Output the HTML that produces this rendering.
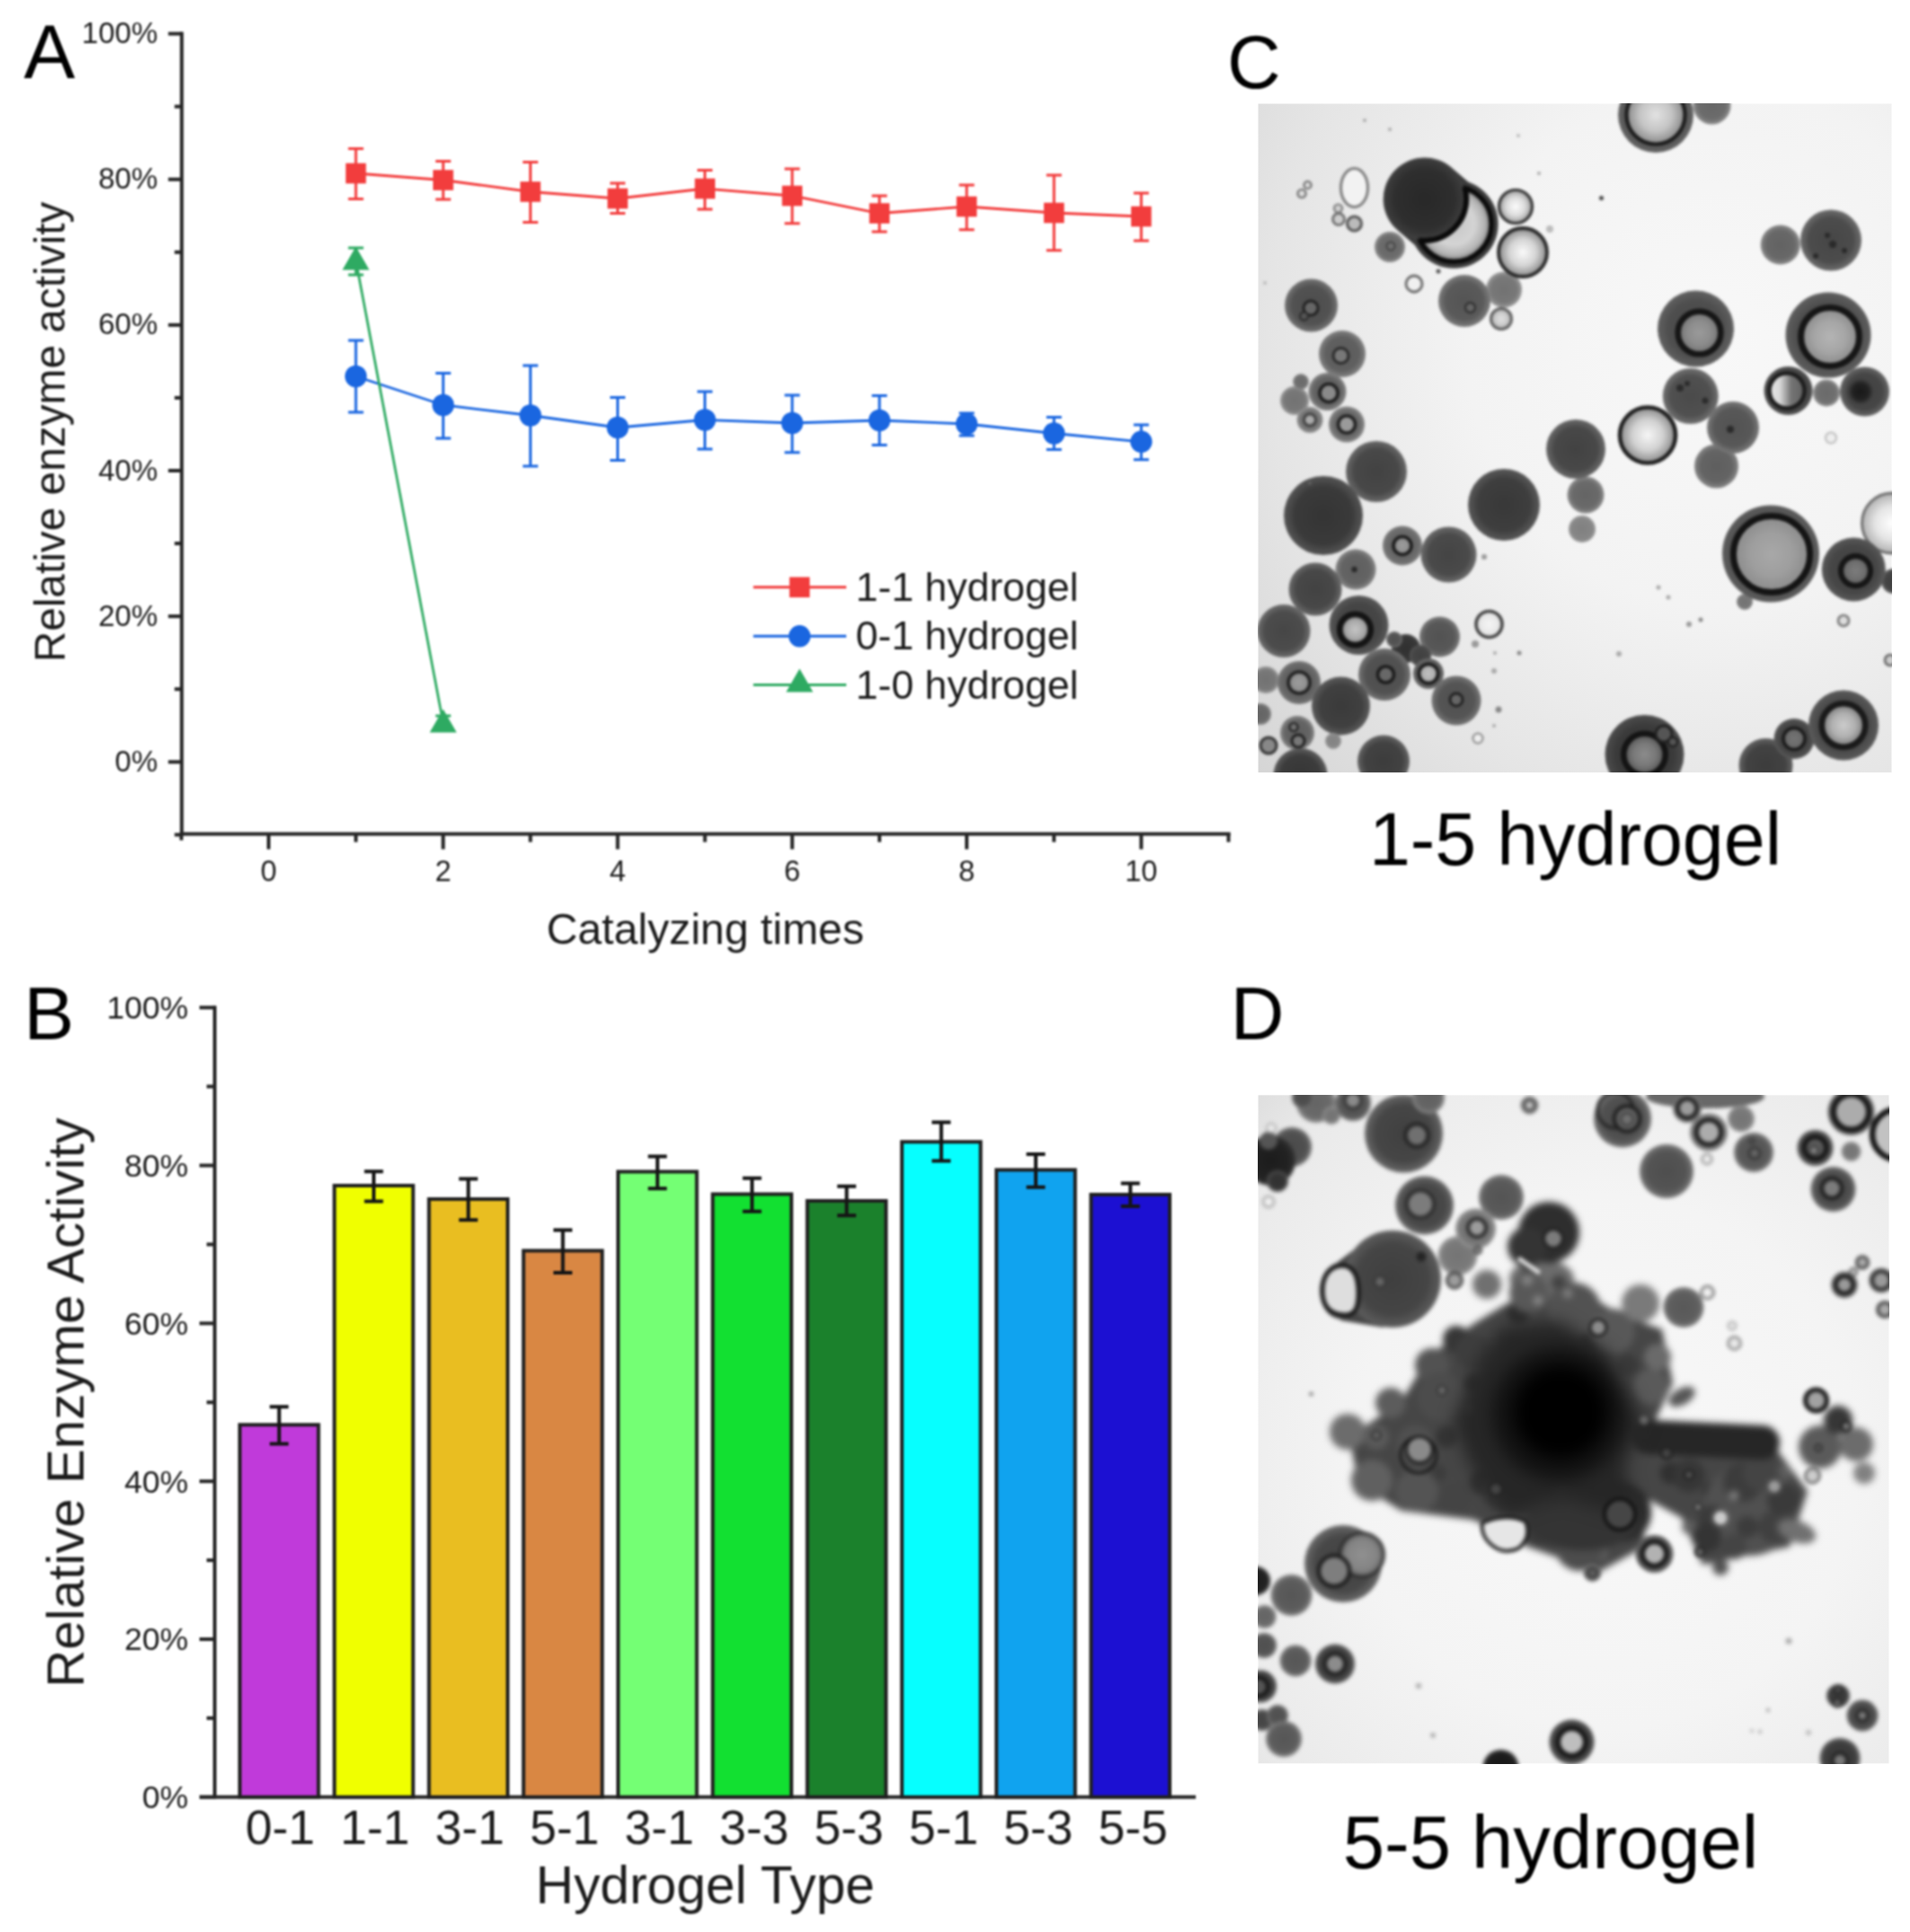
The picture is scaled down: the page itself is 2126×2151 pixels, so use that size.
<!DOCTYPE html><html><head><meta charset="utf-8"><title>Figure</title><style>html,body{margin:0;padding:0;background:#fff}svg{display:block}text{font-family:"Liberation Sans",sans-serif}</style></head><body>
<svg width="2126" height="2151" viewBox="0 0 2126 2151">
<defs><filter id="soft" color-interpolation-filters="sRGB" x="-2%" y="-2%" width="104%" height="104%"><feGaussianBlur stdDeviation="0.9"/></filter>
<radialGradient id="g0"><stop offset="0" stop-color="#c6c6c6"/><stop offset="0.55" stop-color="#d4d4d4"/><stop offset="0.82" stop-color="#b4b4b4"/><stop offset="1" stop-color="#707070"/></radialGradient>
<radialGradient id="g1"><stop offset="0" stop-color="#282828"/><stop offset="0.72" stop-color="#2e2e2e"/><stop offset="0.9" stop-color="#383838"/><stop offset="1" stop-color="#404040"/></radialGradient>
<radialGradient id="g2"><stop offset="0" stop-color="#fcfcfc"/><stop offset="0.55" stop-color="#dcdcdc"/><stop offset="1" stop-color="#9c9c9c"/></radialGradient>
<radialGradient id="g3"><stop offset="0" stop-color="#727272"/><stop offset="0.72" stop-color="#787878"/><stop offset="0.9" stop-color="#8e8e8e"/><stop offset="1" stop-color="#969696"/></radialGradient>
<radialGradient id="g4"><stop offset="0" stop-color="#fafafa"/><stop offset="0.55" stop-color="#d4d4d4"/><stop offset="1" stop-color="#888888"/></radialGradient>
<radialGradient id="g5"><stop offset="0" stop-color="#666666"/><stop offset="0.72" stop-color="#6c6c6c"/><stop offset="0.9" stop-color="#828282"/><stop offset="1" stop-color="#8a8a8a"/></radialGradient>
<radialGradient id="g6"><stop offset="0" stop-color="#545454"/><stop offset="0.72" stop-color="#5a5a5a"/><stop offset="0.9" stop-color="#707070"/><stop offset="1" stop-color="#787878"/></radialGradient>
<radialGradient id="g7"><stop offset="0" stop-color="#e0e0e0"/><stop offset="0.55" stop-color="#cdcdcd"/><stop offset="1" stop-color="#a8a8a8"/></radialGradient>
<radialGradient id="g8"><stop offset="0" stop-color="#4c4c4c"/><stop offset="0.72" stop-color="#525252"/><stop offset="0.9" stop-color="#686868"/><stop offset="1" stop-color="#707070"/></radialGradient>
<radialGradient id="g9"><stop offset="0" stop-color="#5a5a5a"/><stop offset="0.72" stop-color="#606060"/><stop offset="0.9" stop-color="#767676"/><stop offset="1" stop-color="#7e7e7e"/></radialGradient>
<radialGradient id="g10"><stop offset="0" stop-color="#6a6a6a"/><stop offset="0.72" stop-color="#707070"/><stop offset="0.9" stop-color="#868686"/><stop offset="1" stop-color="#8e8e8e"/></radialGradient>
<radialGradient id="g11"><stop offset="0" stop-color="#5c5c5c"/><stop offset="0.72" stop-color="#626262"/><stop offset="0.9" stop-color="#787878"/><stop offset="1" stop-color="#808080"/></radialGradient>
<radialGradient id="g12"><stop offset="0" stop-color="#6e6e6e"/><stop offset="0.72" stop-color="#747474"/><stop offset="0.9" stop-color="#8a8a8a"/><stop offset="1" stop-color="#929292"/></radialGradient>
<radialGradient id="g13"><stop offset="0" stop-color="#626262"/><stop offset="0.72" stop-color="#686868"/><stop offset="0.9" stop-color="#7e7e7e"/><stop offset="1" stop-color="#868686"/></radialGradient>
<radialGradient id="g14"><stop offset="0" stop-color="#424242"/><stop offset="0.72" stop-color="#484848"/><stop offset="0.9" stop-color="#5e5e5e"/><stop offset="1" stop-color="#666666"/></radialGradient>
<radialGradient id="g15"><stop offset="0" stop-color="#343434"/><stop offset="0.72" stop-color="#3a3a3a"/><stop offset="0.9" stop-color="#4c4c4c"/><stop offset="1" stop-color="#545454"/></radialGradient>
<radialGradient id="g16"><stop offset="0" stop-color="#383838"/><stop offset="0.72" stop-color="#3e3e3e"/><stop offset="0.9" stop-color="#505050"/><stop offset="1" stop-color="#585858"/></radialGradient>
<radialGradient id="g17"><stop offset="0" stop-color="#646464"/><stop offset="0.72" stop-color="#6a6a6a"/><stop offset="0.9" stop-color="#808080"/><stop offset="1" stop-color="#888888"/></radialGradient>
<radialGradient id="g18"><stop offset="0" stop-color="#808080"/><stop offset="0.72" stop-color="#868686"/><stop offset="0.9" stop-color="#909090"/><stop offset="1" stop-color="#989898"/></radialGradient>
<radialGradient id="g19"><stop offset="0" stop-color="#f6f6f6"/><stop offset="0.55" stop-color="#d1d1d1"/><stop offset="1" stop-color="#888888"/></radialGradient>
<radialGradient id="g20"><stop offset="0" stop-color="#4a4a4a"/><stop offset="0.72" stop-color="#505050"/><stop offset="0.9" stop-color="#5c5c5c"/><stop offset="1" stop-color="#646464"/></radialGradient>
<radialGradient id="g21"><stop offset="0" stop-color="#e2e2e2"/><stop offset="0.55" stop-color="#c4c4c4"/><stop offset="1" stop-color="#888888"/></radialGradient>
<radialGradient id="g22"><stop offset="0" stop-color="#464646"/><stop offset="0.72" stop-color="#4c4c4c"/><stop offset="0.9" stop-color="#626262"/><stop offset="1" stop-color="#6a6a6a"/></radialGradient>
<radialGradient id="g23"><stop offset="0" stop-color="#4a4a4a"/><stop offset="0.72" stop-color="#505050"/><stop offset="0.9" stop-color="#666666"/><stop offset="1" stop-color="#6e6e6e"/></radialGradient>
<radialGradient id="g24"><stop offset="0" stop-color="#484848"/><stop offset="0.72" stop-color="#4e4e4e"/><stop offset="0.9" stop-color="#5a5a5a"/><stop offset="1" stop-color="#626262"/></radialGradient>
<radialGradient id="g25"><stop offset="0" stop-color="#9a9a9a"/><stop offset="0.55" stop-color="#8c8c8c"/><stop offset="1" stop-color="#707070"/></radialGradient>
<radialGradient id="g26"><stop offset="0" stop-color="#5e5e5e"/><stop offset="0.72" stop-color="#646464"/><stop offset="0.9" stop-color="#7a7a7a"/><stop offset="1" stop-color="#828282"/></radialGradient>
<radialGradient id="g27"><stop offset="0" stop-color="#525252"/><stop offset="0.72" stop-color="#585858"/><stop offset="0.9" stop-color="#6e6e6e"/><stop offset="1" stop-color="#767676"/></radialGradient>
<radialGradient id="g28"><stop offset="0" stop-color="#3a3a3a"/><stop offset="0.72" stop-color="#404040"/><stop offset="0.9" stop-color="#4a4a4a"/><stop offset="1" stop-color="#525252"/></radialGradient>
<linearGradient id="g29" x1="0" y1="0" x2="1" y2="0"><stop offset="0" stop-color="#e8e8e8"/><stop offset="0.3" stop-color="#d8d8d8"/><stop offset="0.62" stop-color="#747474"/><stop offset="1" stop-color="#606060"/></linearGradient>
<radialGradient id="g30"><stop offset="0" stop-color="#404040"/><stop offset="0.72" stop-color="#464646"/><stop offset="0.9" stop-color="#5c5c5c"/><stop offset="1" stop-color="#646464"/></radialGradient>
<radialGradient id="g31"><stop offset="0" stop-color="#181818"/><stop offset="0.6" stop-color="#222222"/><stop offset="1" stop-color="#464646"/></radialGradient>
<radialGradient id="g32"><stop offset="0" stop-color="#464646"/><stop offset="0.72" stop-color="#4c4c4c"/><stop offset="0.9" stop-color="#585858"/><stop offset="1" stop-color="#606060"/></radialGradient>
<radialGradient id="g33"><stop offset="0" stop-color="#b4b4b4"/><stop offset="0.55" stop-color="#a5a5a5"/><stop offset="1" stop-color="#888888"/></radialGradient>
<radialGradient id="g34"><stop offset="0" stop-color="#626262"/><stop offset="0.72" stop-color="#686868"/><stop offset="0.9" stop-color="#747474"/><stop offset="1" stop-color="#7c7c7c"/></radialGradient>
<radialGradient id="g35"><stop offset="0" stop-color="#9c9c9c"/><stop offset="0.55" stop-color="#939393"/><stop offset="1" stop-color="#808080"/></radialGradient>
<radialGradient id="g36"><stop offset="0" stop-color="#444444"/><stop offset="0.72" stop-color="#4a4a4a"/><stop offset="0.9" stop-color="#606060"/><stop offset="1" stop-color="#686868"/></radialGradient>
<radialGradient id="g37"><stop offset="0" stop-color="#303030"/><stop offset="0.72" stop-color="#363636"/><stop offset="0.9" stop-color="#404040"/><stop offset="1" stop-color="#484848"/></radialGradient>
<radialGradient id="g38"><stop offset="0" stop-color="#404040"/><stop offset="0.72" stop-color="#464646"/><stop offset="0.9" stop-color="#505050"/><stop offset="1" stop-color="#585858"/></radialGradient>
<radialGradient id="g39"><stop offset="0" stop-color="#4f4f4f"/><stop offset="0.72" stop-color="#555555"/><stop offset="0.9" stop-color="#6b6b6b"/><stop offset="1" stop-color="#737373"/></radialGradient>
<radialGradient id="g40"><stop offset="0" stop-color="#404040"/><stop offset="0.72" stop-color="#464646"/><stop offset="0.9" stop-color="#525252"/><stop offset="1" stop-color="#5a5a5a"/></radialGradient>
<radialGradient id="g41"><stop offset="0" stop-color="#c4c4c4"/><stop offset="0.55" stop-color="#ababab"/><stop offset="1" stop-color="#787878"/></radialGradient>
<radialGradient id="g42"><stop offset="0" stop-color="#f4f4f4"/><stop offset="0.55" stop-color="#ebebeb"/><stop offset="1" stop-color="#d8d8d8"/></radialGradient>
<radialGradient id="g43"><stop offset="0" stop-color="#4f4f4f"/><stop offset="0.72" stop-color="#555555"/><stop offset="0.9" stop-color="#616161"/><stop offset="1" stop-color="#696969"/></radialGradient>
<radialGradient id="g44"><stop offset="0" stop-color="#c0c0c0"/><stop offset="0.55" stop-color="#b3b3b3"/><stop offset="1" stop-color="#9a9a9a"/></radialGradient>
<radialGradient id="g45"><stop offset="0" stop-color="#5c5c5c"/><stop offset="0.72" stop-color="#626262"/><stop offset="0.9" stop-color="#6e6e6e"/><stop offset="1" stop-color="#767676"/></radialGradient>
<radialGradient id="g46"><stop offset="0" stop-color="#3a3a3a"/><stop offset="0.72" stop-color="#404040"/><stop offset="0.9" stop-color="#525252"/><stop offset="1" stop-color="#5a5a5a"/></radialGradient>
<radialGradient id="g47"><stop offset="0" stop-color="#828282"/><stop offset="0.72" stop-color="#888888"/><stop offset="0.9" stop-color="#909090"/><stop offset="1" stop-color="#989898"/></radialGradient>
<radialGradient id="g48"><stop offset="0" stop-color="#3c3c3c"/><stop offset="0.72" stop-color="#424242"/><stop offset="0.9" stop-color="#585858"/><stop offset="1" stop-color="#606060"/></radialGradient>
<radialGradient id="g49"><stop offset="0" stop-color="#363636"/><stop offset="0.72" stop-color="#3c3c3c"/><stop offset="0.9" stop-color="#525252"/><stop offset="1" stop-color="#5a5a5a"/></radialGradient>
<radialGradient id="g50"><stop offset="0" stop-color="#343434"/><stop offset="0.72" stop-color="#3a3a3a"/><stop offset="0.9" stop-color="#464646"/><stop offset="1" stop-color="#4e4e4e"/></radialGradient>
<radialGradient id="g51"><stop offset="0" stop-color="#8c8c8c"/><stop offset="0.55" stop-color="#787878"/><stop offset="1" stop-color="#505050"/></radialGradient>
<radialGradient id="g52"><stop offset="0" stop-color="#ffffff"/><stop offset="0.55" stop-color="#e5e5e5"/><stop offset="1" stop-color="#b0b0b0"/></radialGradient>
<radialGradient id="g53"><stop offset="0" stop-color="#3e3e3e"/><stop offset="0.72" stop-color="#444444"/><stop offset="0.9" stop-color="#5a5a5a"/><stop offset="1" stop-color="#626262"/></radialGradient>
<radialGradient id="g54"><stop offset="0" stop-color="#7c7c7c"/><stop offset="0.55" stop-color="#707070"/><stop offset="1" stop-color="#585858"/></radialGradient>
<radialGradient id="g55"><stop offset="0" stop-color="#727272"/><stop offset="0.72" stop-color="#787878"/><stop offset="0.9" stop-color="#808080"/><stop offset="1" stop-color="#888888"/></radialGradient>
<radialGradient id="g56"><stop offset="0" stop-color="#444444"/><stop offset="0.72" stop-color="#4a4a4a"/><stop offset="0.9" stop-color="#565656"/><stop offset="1" stop-color="#5e5e5e"/></radialGradient>
<radialGradient id="g57"><stop offset="0" stop-color="#a8a8a8"/><stop offset="0.55" stop-color="#9e9e9e"/><stop offset="1" stop-color="#8a8a8a"/></radialGradient>
<radialGradient id="g58"><stop offset="0" stop-color="#3e3e3e"/><stop offset="0.72" stop-color="#444444"/><stop offset="0.9" stop-color="#505050"/><stop offset="1" stop-color="#585858"/></radialGradient>
<radialGradient id="g59"><stop offset="0" stop-color="#747474"/><stop offset="0.55" stop-color="#6d6d6d"/><stop offset="1" stop-color="#606060"/></radialGradient>
<radialGradient id="g60"><stop offset="0" stop-color="#424242"/><stop offset="0.72" stop-color="#484848"/><stop offset="0.9" stop-color="#545454"/><stop offset="1" stop-color="#5c5c5c"/></radialGradient>
<radialGradient id="g61"><stop offset="0" stop-color="#cccccc"/><stop offset="0.55" stop-color="#afafaf"/><stop offset="1" stop-color="#747474"/></radialGradient>
<radialGradient id="bgC" cx="0.72" cy="0.36" r="0.98"><stop offset="0" stop-color="#f8f8f8"/><stop offset="0.4" stop-color="#f3f3f3"/><stop offset="0.72" stop-color="#e5e5e5"/><stop offset="1" stop-color="#d4d4d4"/></radialGradient>
<clipPath id="clipC"><rect x="1400.5" y="115.5" width="705" height="744.5"/></clipPath>
<filter id="blurC" color-interpolation-filters="sRGB" filterUnits="userSpaceOnUse" x="1380.5" y="95.5" width="745" height="784.5"><feGaussianBlur stdDeviation="1.8"/></filter>
<radialGradient id="g62"><stop offset="0" stop-color="#747474"/><stop offset="0.72" stop-color="#7a7a7a"/><stop offset="0.9" stop-color="#909090"/><stop offset="1" stop-color="#989898"/></radialGradient>
<filter id="hvD" color-interpolation-filters="sRGB" filterUnits="userSpaceOnUse" x="1380" y="1199" width="743" height="785"><feGaussianBlur stdDeviation="3.4"/></filter>
<filter id="hvD2" color-interpolation-filters="sRGB" filterUnits="userSpaceOnUse" x="1380" y="1199" width="743" height="785"><feGaussianBlur stdDeviation="9"/></filter>
<radialGradient id="g63"><stop offset="0" stop-color="#3f3f3f"/><stop offset="0.72" stop-color="#454545"/><stop offset="0.9" stop-color="#555555"/><stop offset="1" stop-color="#5d5d5d"/></radialGradient>
<radialGradient id="g64"><stop offset="0" stop-color="#1c1c1c"/><stop offset="0.72" stop-color="#222222"/><stop offset="0.9" stop-color="#2c2c2c"/><stop offset="1" stop-color="#343434"/></radialGradient>
<radialGradient id="g65"><stop offset="0" stop-color="#303030"/><stop offset="0.72" stop-color="#363636"/><stop offset="0.9" stop-color="#4c4c4c"/><stop offset="1" stop-color="#545454"/></radialGradient>
<radialGradient id="g66"><stop offset="0" stop-color="#606060"/><stop offset="0.72" stop-color="#666666"/><stop offset="0.9" stop-color="#7c7c7c"/><stop offset="1" stop-color="#848484"/></radialGradient>
<radialGradient id="g67"><stop offset="0" stop-color="#4e4e4e"/><stop offset="0.72" stop-color="#545454"/><stop offset="0.9" stop-color="#6a6a6a"/><stop offset="1" stop-color="#727272"/></radialGradient>
<radialGradient id="g68"><stop offset="0" stop-color="#343434"/><stop offset="0.72" stop-color="#3a3a3a"/><stop offset="0.9" stop-color="#505050"/><stop offset="1" stop-color="#585858"/></radialGradient>
<radialGradient id="g69"><stop offset="0" stop-color="#585858"/><stop offset="0.72" stop-color="#5e5e5e"/><stop offset="0.9" stop-color="#747474"/><stop offset="1" stop-color="#7c7c7c"/></radialGradient>
<radialGradient id="g70"><stop offset="0" stop-color="#565656"/><stop offset="0.72" stop-color="#5c5c5c"/><stop offset="0.9" stop-color="#727272"/><stop offset="1" stop-color="#7a7a7a"/></radialGradient>
<radialGradient id="g71"><stop offset="0" stop-color="#909090"/><stop offset="0.7" stop-color="#848484"/><stop offset="1" stop-color="#606060"/></radialGradient>
<radialGradient id="g72"><stop offset="0" stop-color="#1c1c1c"/><stop offset="0.72" stop-color="#222222"/><stop offset="0.9" stop-color="#2a2a2a"/><stop offset="1" stop-color="#323232"/></radialGradient>
<radialGradient id="g73"><stop offset="0" stop-color="#161616"/><stop offset="0.72" stop-color="#1c1c1c"/><stop offset="0.9" stop-color="#282828"/><stop offset="1" stop-color="#303030"/></radialGradient>
<radialGradient id="bgD" cx="0.55" cy="0.55" r="0.8"><stop offset="0" stop-color="#f8f8f8"/><stop offset="0.5" stop-color="#f4f4f4"/><stop offset="0.85" stop-color="#eaeaea"/><stop offset="1" stop-color="#dcdcdc"/></radialGradient>
<clipPath id="clipD"><rect x="1400.5" y="1219.3" width="702" height="744"/></clipPath>
<filter id="blurD" color-interpolation-filters="sRGB" filterUnits="userSpaceOnUse" x="1380.5" y="1199.3" width="742" height="784"><feGaussianBlur stdDeviation="1.9"/></filter>
</defs>
<rect width="2126" height="2151" fill="#fff"/>
<g filter="url(#soft)">
<g id="panelA">
<g stroke="#262626" stroke-width="4" fill="none">
<path d="M202.3 35.44999999999995 V930.6"/>
<path d="M200.20000000000002 928.5 H1369.6299999999999"/>
<path d="M194.3 929.38 H202.3"/>
<path d="M187.3 848.30 H202.3"/>
<path d="M194.3 767.22 H202.3"/>
<path d="M187.3 686.15 H202.3"/>
<path d="M194.3 605.07 H202.3"/>
<path d="M187.3 524.00 H202.3"/>
<path d="M194.3 442.92 H202.3"/>
<path d="M187.3 361.85 H202.3"/>
<path d="M194.3 280.77 H202.3"/>
<path d="M187.3 199.70 H202.3"/>
<path d="M194.3 118.62 H202.3"/>
<path d="M187.3 37.55 H202.3"/>
<path d="M201.87 928.5 V935.5"/>
<path d="M299.00 928.5 V945.5"/>
<path d="M396.13 928.5 V937.5"/>
<path d="M493.26 928.5 V945.5"/>
<path d="M590.39 928.5 V937.5"/>
<path d="M687.52 928.5 V945.5"/>
<path d="M784.65 928.5 V937.5"/>
<path d="M881.78 928.5 V945.5"/>
<path d="M978.91 928.5 V937.5"/>
<path d="M1076.04 928.5 V945.5"/>
<path d="M1173.17 928.5 V937.5"/>
<path d="M1270.30 928.5 V945.5"/>
<path d="M1367.43 928.5 V937.5"/>
</g>
<text x="175.5" y="858.9" font-size="33" text-anchor="end" fill="#1c1c1c" >0%</text>
<text x="175.5" y="696.8" font-size="33" text-anchor="end" fill="#1c1c1c" >20%</text>
<text x="175.5" y="534.6" font-size="33" text-anchor="end" fill="#1c1c1c" >40%</text>
<text x="175.5" y="372.4" font-size="33" text-anchor="end" fill="#1c1c1c" >60%</text>
<text x="175.5" y="210.3" font-size="33" text-anchor="end" fill="#1c1c1c" >80%</text>
<text x="175.5" y="48.1" font-size="33" text-anchor="end" fill="#1c1c1c" >100%</text>
<text x="299.0" y="981.2" font-size="32.5" text-anchor="middle" fill="#1c1c1c" >0</text>
<text x="493.3" y="981.2" font-size="32.5" text-anchor="middle" fill="#1c1c1c" >2</text>
<text x="687.5" y="981.2" font-size="32.5" text-anchor="middle" fill="#1c1c1c" >4</text>
<text x="881.8" y="981.2" font-size="32.5" text-anchor="middle" fill="#1c1c1c" >6</text>
<text x="1076.0" y="981.2" font-size="32.5" text-anchor="middle" fill="#1c1c1c" >8</text>
<text x="1270.3" y="981.2" font-size="32.5" text-anchor="middle" fill="#1c1c1c" >10</text>
<text x="785" y="1051" font-size="48.2" text-anchor="middle" fill="#1c1c1c" >Catalyzing times</text>
<text transform="translate(72.2 481) rotate(-90)" font-size="47.8" text-anchor="middle" fill="#1c1c1c">Relative enzyme activity</text>
<text x="26.5" y="87" font-size="85.5" text-anchor="start" fill="#000" >A</text>
<g stroke="#f23d3d" fill="#f23d3d" stroke-width="2.8">
<polyline fill="none" points="396.1,193.0 493.3,200.5 590.4,213.5 687.5,221.0 784.6,210.0 881.8,218.0 978.9,237.5 1076.0,230.0 1173.2,237.0 1270.3,241.0"/>
<path fill="none" stroke-width="3" d="M396.1 165.5 V221.5 M387.6 165.5 h17 M387.6 221.5 h17"/>
<path fill="none" stroke-width="3" d="M493.3 179.5 V222 M484.8 179.5 h17 M484.8 222 h17"/>
<path fill="none" stroke-width="3" d="M590.4 180.5 V247.5 M581.9 180.5 h17 M581.9 247.5 h17"/>
<path fill="none" stroke-width="3" d="M687.5 204 V237.5 M679.0 204 h17 M679.0 237.5 h17"/>
<path fill="none" stroke-width="3" d="M784.6 189.5 V233 M776.1 189.5 h17 M776.1 233 h17"/>
<path fill="none" stroke-width="3" d="M881.8 188 V248.75 M873.3 188 h17 M873.3 248.75 h17"/>
<path fill="none" stroke-width="3" d="M978.9 218 V258 M970.4 218 h17 M970.4 258 h17"/>
<path fill="none" stroke-width="3" d="M1076.0 206 V255.75 M1067.5 206 h17 M1067.5 255.75 h17"/>
<path fill="none" stroke-width="3" d="M1173.2 195 V278.75 M1164.7 195 h17 M1164.7 278.75 h17"/>
<path fill="none" stroke-width="3" d="M1270.3 215 V268 M1261.8 215 h17 M1261.8 268 h17"/>
<rect stroke="none" x="384.8" y="181.7" width="22.6" height="22.6"/>
<rect stroke="none" x="482.0" y="189.2" width="22.6" height="22.6"/>
<rect stroke="none" x="579.1" y="202.2" width="22.6" height="22.6"/>
<rect stroke="none" x="676.2" y="209.7" width="22.6" height="22.6"/>
<rect stroke="none" x="773.4" y="198.7" width="22.6" height="22.6"/>
<rect stroke="none" x="870.5" y="206.7" width="22.6" height="22.6"/>
<rect stroke="none" x="967.6" y="226.2" width="22.6" height="22.6"/>
<rect stroke="none" x="1064.7" y="218.7" width="22.6" height="22.6"/>
<rect stroke="none" x="1161.9" y="225.7" width="22.6" height="22.6"/>
<rect stroke="none" x="1259.0" y="229.7" width="22.6" height="22.6"/>
</g>
<g stroke="#1a66e0" fill="#1a66e0" stroke-width="2.8">
<polyline fill="none" points="396.1,419.0 493.3,451.0 590.4,462.5 687.5,476.0 784.6,467.5 881.8,471.0 978.9,468.0 1076.0,472.0 1173.2,482.5 1270.3,491.8"/>
<path fill="none" stroke-width="3" d="M396.1 379 V459 M387.6 379 h17 M387.6 459 h17"/>
<path fill="none" stroke-width="3" d="M493.3 415.5 V488 M484.8 415.5 h17 M484.8 488 h17"/>
<path fill="none" stroke-width="3" d="M590.4 407 V519 M581.9 407 h17 M581.9 519 h17"/>
<path fill="none" stroke-width="3" d="M687.5 442.5 V512.5 M679.0 442.5 h17 M679.0 512.5 h17"/>
<path fill="none" stroke-width="3" d="M784.6 436 V500 M776.1 436 h17 M776.1 500 h17"/>
<path fill="none" stroke-width="3" d="M881.8 440 V503.75 M873.3 440 h17 M873.3 503.75 h17"/>
<path fill="none" stroke-width="3" d="M978.9 440.5 V495.5 M970.4 440.5 h17 M970.4 495.5 h17"/>
<path fill="none" stroke-width="3" d="M1076.0 460 V485 M1067.5 460 h17 M1067.5 485 h17"/>
<path fill="none" stroke-width="3" d="M1173.2 464.5 V500.5 M1164.7 464.5 h17 M1164.7 500.5 h17"/>
<path fill="none" stroke-width="3" d="M1270.3 473 V511.75 M1261.8 473 h17 M1261.8 511.75 h17"/>
<circle stroke="none" cx="396.1" cy="419.0" r="12.2"/>
<circle stroke="none" cx="493.3" cy="451.0" r="12.2"/>
<circle stroke="none" cx="590.4" cy="462.5" r="12.2"/>
<circle stroke="none" cx="687.5" cy="476.0" r="12.2"/>
<circle stroke="none" cx="784.6" cy="467.5" r="12.2"/>
<circle stroke="none" cx="881.8" cy="471.0" r="12.2"/>
<circle stroke="none" cx="978.9" cy="468.0" r="12.2"/>
<circle stroke="none" cx="1076.0" cy="472.0" r="12.2"/>
<circle stroke="none" cx="1173.2" cy="482.5" r="12.2"/>
<circle stroke="none" cx="1270.3" cy="491.8" r="12.2"/>
</g>
<g stroke="#2eaa62" fill="#2eaa62" stroke-width="2.8">
<polyline fill="none" points="396.1,290.0 493.3,805.0"/>
<path fill="none" stroke-width="3" d="M396.1 276 V306 M387.6 276 h17 M387.6 306 h17"/>
<path fill="none" stroke-width="3" d="M493.3 797 V813 M484.8 797 h17 M484.8 813 h17"/>
<path stroke="none" d="M396.1 274.5 L411.1 300.5 H381.1 Z"/>
<path stroke="none" d="M493.3 789.5 L508.3 815.5 H478.3 Z"/>
</g>
<g stroke="#f23d3d" fill="#f23d3d" stroke-width="3"><path d="M838.5 653.8 H942"/>
<rect stroke="none" x="878.7" y="642.5" width="22.6" height="22.6"/>
</g>
<text x="952.5" y="668.8" font-size="44.6" text-anchor="start" fill="#1c1c1c" >1-1 hydrogel</text>
<g stroke="#1a66e0" fill="#1a66e0" stroke-width="3"><path d="M838.5 708.3 H942"/>
<circle stroke="none" cx="890.0" cy="708.3" r="12.2"/>
</g>
<text x="952.5" y="723.3" font-size="44.6" text-anchor="start" fill="#1c1c1c" >0-1 hydrogel</text>
<g stroke="#2eaa62" fill="#2eaa62" stroke-width="3"><path d="M838.5 762.6 H942"/>
<path stroke="none" d="M890.0 744.6 L905.0 770.6 H875.0 Z"/>
</g>
<text x="952.5" y="777.6" font-size="44.6" text-anchor="start" fill="#1c1c1c" >1-0 hydrogel</text>
</g>
<g id="panelB">
<g stroke="#262626" stroke-width="4" fill="none">
<path d="M239.0 1119.75 V2002.8"/>
<path d="M222 2000.8 H1331"/>
<path d="M222.0 2000.80 H239.0"/>
<path d="M230.0 1912.89 H239.0"/>
<path d="M222.0 1824.99 H239.0"/>
<path d="M230.0 1737.09 H239.0"/>
<path d="M222.0 1649.18 H239.0"/>
<path d="M230.0 1561.28 H239.0"/>
<path d="M222.0 1473.37 H239.0"/>
<path d="M230.0 1385.46 H239.0"/>
<path d="M222.0 1297.56 H239.0"/>
<path d="M230.0 1209.65 H239.0"/>
<path d="M222.0 1121.75 H239.0"/>
</g>
<text x="209.5" y="2013.1" font-size="35.5" text-anchor="end" fill="#1c1c1c" >0%</text>
<text x="209.5" y="1837.3" font-size="35.5" text-anchor="end" fill="#1c1c1c" >20%</text>
<text x="209.5" y="1661.5" font-size="35.5" text-anchor="end" fill="#1c1c1c" >40%</text>
<text x="209.5" y="1485.7" font-size="35.5" text-anchor="end" fill="#1c1c1c" >60%</text>
<text x="209.5" y="1309.9" font-size="35.5" text-anchor="end" fill="#1c1c1c" >80%</text>
<text x="209.5" y="1134.0" font-size="35.5" text-anchor="end" fill="#1c1c1c" >100%</text>
<rect x="266.9" y="1586.3" width="87.6" height="414.5" fill="#c03ada" stroke="#202020" stroke-width="4"/>
<path stroke="#151515" stroke-width="4" fill="none" d="M310.7 1566.3 V1607.5 M300.2 1566.3 h21 M300.2 1607.5 h21"/>
<text x="311.9" y="2052.6" font-size="53.5" text-anchor="middle" fill="#1c1c1c" >0-1</text>
<rect x="372.2" y="1320" width="87.6" height="680.8" fill="#f0ff00" stroke="#202020" stroke-width="4"/>
<path stroke="#151515" stroke-width="4" fill="none" d="M416.0 1304.3 V1337.5 M405.5 1304.3 h21 M405.5 1337.5 h21"/>
<text x="417.4" y="2052.6" font-size="53.5" text-anchor="middle" fill="#1c1c1c" >1-1</text>
<rect x="477.5" y="1335" width="87.6" height="665.8" fill="#e9be21" stroke="#202020" stroke-width="4"/>
<path stroke="#151515" stroke-width="4" fill="none" d="M521.3 1312.5 V1358.3 M510.8 1312.5 h21 M510.8 1358.3 h21"/>
<text x="522.9" y="2052.6" font-size="53.5" text-anchor="middle" fill="#1c1c1c" >3-1</text>
<rect x="582.7" y="1392.5" width="87.6" height="608.3" fill="#d98743" stroke="#202020" stroke-width="4"/>
<path stroke="#151515" stroke-width="4" fill="none" d="M626.5 1369.5 V1417 M616.0 1369.5 h21 M616.0 1417 h21"/>
<text x="628.3" y="2052.6" font-size="53.5" text-anchor="middle" fill="#1c1c1c" >5-1</text>
<rect x="688.0" y="1304.5" width="87.6" height="696.3" fill="#74ff74" stroke="#202020" stroke-width="4"/>
<path stroke="#151515" stroke-width="4" fill="none" d="M731.8 1287.5 V1323.3 M721.3 1287.5 h21 M721.3 1323.3 h21"/>
<text x="733.8" y="2052.6" font-size="53.5" text-anchor="middle" fill="#1c1c1c" >3-1</text>
<rect x="793.3" y="1329.5" width="87.6" height="671.3" fill="#12e031" stroke="#202020" stroke-width="4"/>
<path stroke="#151515" stroke-width="4" fill="none" d="M837.1 1311.8 V1348.8 M826.6 1311.8 h21 M826.6 1348.8 h21"/>
<text x="839.3" y="2052.6" font-size="53.5" text-anchor="middle" fill="#1c1c1c" >3-3</text>
<rect x="898.6" y="1337" width="87.6" height="663.8" fill="#1b812c" stroke="#202020" stroke-width="4"/>
<path stroke="#151515" stroke-width="4" fill="none" d="M942.4 1320.8 V1353.3 M931.9 1320.8 h21 M931.9 1353.3 h21"/>
<text x="944.8" y="2052.6" font-size="53.5" text-anchor="middle" fill="#1c1c1c" >5-3</text>
<rect x="1003.9" y="1271.3" width="87.6" height="729.5" fill="#06ffff" stroke="#202020" stroke-width="4"/>
<path stroke="#151515" stroke-width="4" fill="none" d="M1047.7 1249.5 V1292.5 M1037.2 1249.5 h21 M1037.2 1292.5 h21"/>
<text x="1050.3" y="2052.6" font-size="53.5" text-anchor="middle" fill="#1c1c1c" >5-1</text>
<rect x="1109.1" y="1302.5" width="87.6" height="698.3" fill="#10a3ef" stroke="#202020" stroke-width="4"/>
<path stroke="#151515" stroke-width="4" fill="none" d="M1152.9 1285 V1321.8 M1142.4 1285 h21 M1142.4 1321.8 h21"/>
<text x="1155.7" y="2052.6" font-size="53.5" text-anchor="middle" fill="#1c1c1c" >5-3</text>
<rect x="1214.4" y="1330" width="87.6" height="670.8" fill="#1c10d2" stroke="#202020" stroke-width="4"/>
<path stroke="#151515" stroke-width="4" fill="none" d="M1258.2 1317.5 V1343 M1247.7 1317.5 h21 M1247.7 1343 h21"/>
<text x="1261.2" y="2052.6" font-size="53.5" text-anchor="middle" fill="#1c1c1c" >5-5</text>
<text x="785" y="2119" font-size="58.7" text-anchor="middle" fill="#1c1c1c" >Hydrogel Type</text>
<text transform="translate(93.2 1561.5) rotate(-90)" font-size="58.25" text-anchor="middle" fill="#1c1c1c">Relative Enzyme Activity</text>
<text x="26.5" y="1156.5" font-size="84" text-anchor="start" fill="#000" >B</text>
</g>
<text x="1366" y="97.5" font-size="82.5" text-anchor="start" fill="#000" >C</text>
<text x="1369.8" y="1157" font-size="82.5" text-anchor="start" fill="#000" >D</text>
<text x="1753.5" y="962.5" font-size="82.6" text-anchor="middle" fill="#000" >1-5 hydrogel</text>
<text x="1726" y="2080.3" font-size="83.2" text-anchor="middle" fill="#000" >5-5 hydrogel</text>
</g>
<g id="microC" clip-path="url(#clipC)">
<rect x="1400.5" y="115.5" width="705" height="744.5" fill="url(#bgC)"/>
<g filter="url(#blurC)">
<path d="M1585.7 221.6 L1618.3 249.4" stroke="#3a3a3a" stroke-width="92" stroke-linecap="round" fill="none"/>
<circle cx="1618.3" cy="249.4" r="49.3" fill="#3c3c3c"/>
<circle cx="1618.3" cy="249.4" r="41.8" fill="url(#g0)" stroke="#0c0c0c" stroke-width="5.5"/>
<circle cx="1585.7" cy="221.6" r="45.5" fill="url(#g1)"/>
<clipPath id="c2in"><circle cx="1618.3" cy="249.4" r="42"/></clipPath>
<circle cx="1585.7" cy="221.6" r="46.5" fill="none" stroke="#0a0a0a" stroke-width="6" clip-path="url(#c2in)"/>
<circle cx="1687" cy="230" r="18.5" fill="url(#g2)" stroke="#333333" stroke-width="3.2"/>
<circle cx="1674" cy="322.5" r="20" fill="url(#g3)"/>
<circle cx="1695" cy="281" r="27" fill="url(#g4)" stroke="#282828" stroke-width="3.8"/>
<circle cx="1547" cy="275" r="17" fill="url(#g5)"/>
<circle cx="1548" cy="274" r="4.5" fill="#707070" stroke="#444444" stroke-width="2"/>
<ellipse cx="1507.5" cy="209" rx="15" ry="21.5" fill="#f2f2f2" stroke="#7c7c7c" stroke-width="3"/>
<circle cx="1490" cy="244" r="6.5" fill="#cccccc" stroke="#666666" stroke-width="2.6"/>
<circle cx="1507.5" cy="249" r="8" fill="#bbbbbb" stroke="#555555" stroke-width="3"/>
<circle cx="1489.5" cy="232" r="4.5" fill="#d0d0d0" stroke="#777777" stroke-width="2.2"/>
<circle cx="1455.5" cy="206" r="4" fill="#dddddd" stroke="#6a6a6a" stroke-width="2.2"/>
<circle cx="1449" cy="215.5" r="4.5" fill="#dddddd" stroke="#6a6a6a" stroke-width="2.2"/>
<circle cx="1574" cy="316" r="9" fill="#f0f0f0" stroke="#666666" stroke-width="2.8"/>
<circle cx="1630" cy="335" r="29" fill="url(#g6)"/>
<circle cx="1636.5" cy="342.5" r="5.5" fill="#666666" stroke="#333333" stroke-width="2.4"/>
<circle cx="1671" cy="355" r="11.5" fill="url(#g7)" stroke="#606060" stroke-width="3"/>
<circle cx="1459.5" cy="340" r="29.5" fill="url(#g8)"/>
<circle cx="1459" cy="343" r="8" fill="#666666" stroke="#222222" stroke-width="3"/>
<circle cx="1451.5" cy="352" r="4.5" fill="#555555" stroke="#2a2a2a" stroke-width="2"/>
<circle cx="1494" cy="394" r="26" fill="url(#g9)"/>
<circle cx="1492.5" cy="396" r="8.5" fill="#787878" stroke="#2a2a2a" stroke-width="3"/>
<circle cx="1441" cy="446" r="16" fill="url(#g3)"/>
<circle cx="1448" cy="425" r="9" fill="url(#g10)"/>
<circle cx="1477.5" cy="436" r="21" fill="url(#g11)"/>
<circle cx="1479" cy="437.5" r="10" fill="#8a8a8a" stroke="#1e1e1e" stroke-width="3.6"/>
<circle cx="1458" cy="467.5" r="14.5" fill="url(#g12)"/>
<circle cx="1458" cy="467.5" r="6.5" fill="#aaaaaa" stroke="#444444" stroke-width="3"/>
<circle cx="1499" cy="472.5" r="20" fill="url(#g13)"/>
<circle cx="1499" cy="472.5" r="9.5" fill="#9a9a9a" stroke="#222222" stroke-width="3.6"/>
<circle cx="1532" cy="525" r="34" fill="url(#g14)"/>
<circle cx="1473" cy="574" r="44" fill="url(#g15)"/>
<circle cx="1674" cy="562" r="40" fill="url(#g16)"/>
<circle cx="1765" cy="551" r="20.5" fill="url(#g17)"/>
<circle cx="1754" cy="500" r="33" fill="url(#g14)"/>
<circle cx="1761" cy="589" r="15" fill="url(#g18)"/>
<circle cx="1834" cy="484.5" r="31" fill="url(#g19)" stroke="#202020" stroke-width="4.6"/>
<circle cx="1843" cy="128" r="42" fill="url(#g20)"/>
<circle cx="1843" cy="128" r="32.5" fill="url(#g21)" stroke="#1c1c1c" stroke-width="4.2"/>
<circle cx="1905.5" cy="117.5" r="21" fill="url(#g5)"/>
<circle cx="1981.75" cy="272.5" r="22" fill="url(#g13)"/>
<circle cx="2038" cy="267.5" r="34" fill="url(#g22)"/>
<circle cx="2034" cy="262" r="3" fill="#2a2a2a"/>
<circle cx="2040" cy="272" r="4" fill="#2a2a2a"/>
<circle cx="2053" cy="279" r="3" fill="#2a2a2a"/>
<circle cx="2021" cy="285" r="3" fill="#2a2a2a"/>
<circle cx="1881.75" cy="441" r="31" fill="url(#g23)"/>
<circle cx="1887.5" cy="366" r="42.5" fill="url(#g24)"/>
<circle cx="1891.5" cy="370.5" r="23.8" fill="url(#g25)" stroke="#161616" stroke-width="6.6"/>
<circle cx="2033" cy="437.5" r="15" fill="url(#g10)"/>
<circle cx="1910.5" cy="519" r="24.5" fill="url(#g26)"/>
<circle cx="1929" cy="476" r="29" fill="url(#g27)"/>
<circle cx="1926" cy="478" r="4" fill="#2a2a2a"/>
<circle cx="1870" cy="432" r="4" fill="#2c2c2c"/>
<circle cx="1878" cy="427" r="3" fill="#2c2c2c"/>
<circle cx="1898" cy="446" r="3.5" fill="#2c2c2c"/>
<circle cx="1990.5" cy="435" r="27" fill="url(#g28)"/>
<circle cx="1989" cy="435" r="19.5" fill="url(#g29)" stroke="#1e1e1e" stroke-width="4.5"/>
<circle cx="2075.5" cy="436" r="27.5" fill="url(#g30)"/>
<circle cx="2071" cy="436" r="15" fill="url(#g31)"/>
<circle cx="2035" cy="373" r="47.5" fill="url(#g32)"/>
<circle cx="2037" cy="375" r="32.400000000000006" fill="url(#g33)" stroke="#161616" stroke-width="7.0"/>
<circle cx="1561" cy="607.5" r="22" fill="url(#g34)"/>
<circle cx="1561" cy="607.5" r="10" fill="url(#g35)" stroke="#1c1c1c" stroke-width="3.6"/>
<circle cx="1612.5" cy="617.5" r="31" fill="url(#g36)"/>
<circle cx="1509" cy="634" r="22.5" fill="url(#g26)"/>
<circle cx="1507.5" cy="634" r="3.2" fill="#2a2a2a"/>
<circle cx="1464" cy="656" r="29.5" fill="url(#g14)"/>
<circle cx="1429" cy="702.5" r="29.5" fill="url(#g22)"/>
<circle cx="1602.5" cy="709" r="22.5" fill="url(#g27)"/>
<circle cx="1565" cy="722" r="16" fill="url(#g37)"/>
<circle cx="1581" cy="730" r="12" fill="url(#g38)"/>
<circle cx="1552" cy="712" r="9" fill="url(#g39)"/>
<circle cx="1512.5" cy="696" r="33" fill="url(#g40)"/>
<circle cx="1508.5" cy="701" r="17.2" fill="url(#g41)" stroke="#141414" stroke-width="6.800000000000001"/>
<circle cx="1657.5" cy="695" r="14.5" fill="url(#g42)" stroke="#444444" stroke-width="3.6"/>
<circle cx="1541" cy="751" r="29" fill="url(#g8)"/>
<circle cx="1542.5" cy="751" r="9" fill="#686868" stroke="#1c1c1c" stroke-width="3.6"/>
<circle cx="1590" cy="750" r="17" fill="url(#g43)"/>
<circle cx="1590" cy="750" r="10.5" fill="url(#g44)" stroke="#1c1c1c" stroke-width="3.6"/>
<circle cx="1409" cy="757" r="15" fill="url(#g3)"/>
<circle cx="1446" cy="760" r="24" fill="url(#g45)"/>
<circle cx="1446" cy="760" r="12" fill="url(#g35)" stroke="#222222" stroke-width="3.6"/>
<circle cx="1621" cy="780" r="27.5" fill="url(#g39)"/>
<circle cx="1621" cy="779" r="7" fill="#666666" stroke="#222222" stroke-width="3"/>
<circle cx="1492.5" cy="786" r="32.5" fill="url(#g46)"/>
<circle cx="1403" cy="795" r="12" fill="url(#g17)"/>
<circle cx="1484" cy="825" r="9" fill="url(#g47)"/>
<circle cx="1444" cy="816" r="19" fill="url(#g26)"/>
<circle cx="1440" cy="809.5" r="4.5" fill="#707070" stroke="#222222" stroke-width="2.2"/>
<circle cx="1445" cy="825" r="7" fill="#787878" stroke="#222222" stroke-width="3"/>
<circle cx="1412" cy="830" r="9" fill="#888888" stroke="#333333" stroke-width="3"/>
<circle cx="1540" cy="847.5" r="29" fill="url(#g48)"/>
<circle cx="1447.5" cy="863" r="30" fill="url(#g49)"/>
<circle cx="1645" cy="822" r="5.5" fill="#eeeeee" stroke="#888888" stroke-width="2"/>
<circle cx="1830.5" cy="840" r="44" fill="url(#g50)"/>
<circle cx="1830.5" cy="840" r="23.2" fill="url(#g51)" stroke="#141414" stroke-width="6.6"/>
<circle cx="1852" cy="817" r="9" fill="#555555" stroke="#222222" stroke-width="3"/>
<circle cx="1862" cy="826" r="5" fill="#555555" stroke="#222222" stroke-width="2.5"/>
<circle cx="2106" cy="582.5" r="33.5" fill="url(#g52)" stroke="#6a6a6a" stroke-width="2.8"/>
<circle cx="2108" cy="647" r="14" fill="url(#g53)"/>
<circle cx="2063.3" cy="634" r="35.5" fill="url(#g40)"/>
<circle cx="2065.5" cy="635.6" r="16.5" fill="url(#g54)" stroke="#161616" stroke-width="6.1"/>
<circle cx="1942" cy="670" r="9" fill="url(#g55)"/>
<circle cx="1971" cy="616.5" r="54" fill="url(#g56)"/>
<circle cx="1972" cy="617.0" r="42.6" fill="url(#g57)" stroke="#141414" stroke-width="7.0"/>
<circle cx="1965.5" cy="852" r="30" fill="url(#g48)"/>
<circle cx="1997" cy="822.5" r="22.5" fill="url(#g58)"/>
<circle cx="1997" cy="822.5" r="12" fill="url(#g59)" stroke="#1c1c1c" stroke-width="3.6"/>
<circle cx="2052" cy="807.5" r="39" fill="url(#g60)"/>
<circle cx="2052" cy="807.5" r="24.2" fill="url(#g61)" stroke="#1a1a1a" stroke-width="6.6"/>
<circle cx="2052" cy="691" r="6" fill="#dddddd" stroke="#777777" stroke-width="2.6"/>
<circle cx="2104" cy="735" r="6" fill="#cccccc" stroke="#666666" stroke-width="2.6"/>
<circle cx="2038" cy="487.5" r="6" fill="#eeeeee" stroke="#bbbbbb" stroke-width="2"/>
<circle cx="1782.5" cy="220.5" r="2.5" fill="#444444"/>
<circle cx="1601" cy="302" r="2.5" fill="#555555"/>
<circle cx="1458" cy="538" r="1.8" fill="#666666"/>
<circle cx="1547" cy="144" r="2" fill="#aaaaaa"/>
<circle cx="1519" cy="134" r="2" fill="#aaaaaa"/>
<circle cx="1713" cy="193" r="2" fill="#aaaaaa"/>
<circle cx="1690" cy="151" r="2" fill="#bbbbbb"/>
<circle cx="1652" cy="620" r="3" fill="#999999"/>
<circle cx="1642" cy="717" r="4" fill="#999999"/>
<circle cx="1691" cy="727" r="2.5" fill="#888888"/>
<circle cx="1663" cy="747" r="3" fill="#aaaaaa"/>
<circle cx="1668" cy="790" r="3.5" fill="#888888"/>
<circle cx="1880" cy="695" r="3" fill="#999999"/>
<circle cx="1893" cy="690" r="2.5" fill="#888888"/>
<circle cx="1802" cy="728" r="3" fill="#aaaaaa"/>
<circle cx="1664" cy="727" r="2" fill="#aaaaaa"/>
<circle cx="1846" cy="654" r="2.5" fill="#aaaaaa"/>
<circle cx="1857" cy="665" r="2.5" fill="#aaaaaa"/>
<circle cx="1663" cy="808" r="2" fill="#aaaaaa"/>
<circle cx="1408" cy="315" r="2" fill="#bbbbbb"/>
<circle cx="1725" cy="255" r="4" fill="#bbbbbb"/>
</g></g>
<g id="microD" clip-path="url(#clipD)">
<rect x="1400.5" y="1219.3" width="702" height="744" fill="url(#bgD)"/>
<g filter="url(#blurD)">
<circle cx="1671" cy="1333" r="25" fill="url(#g6)"/>
<circle cx="1622.5" cy="1398" r="22" fill="url(#g62)"/>
<g filter="url(#hvD)">
<path d="M1676 1452 L1716 1436 L1768 1442 L1804 1464 L1850 1480 L1862 1540 L1842 1582 L1960 1590 L2012 1660 L1992 1722 L1895 1742 L1872 1690 L1832 1668 L1830 1722 L1780 1750 L1700 1722 L1640 1692 L1560 1682 L1512 1652 L1502 1600 L1560 1560 L1590 1510 L1640 1474 Z" fill="#464646"/>
<ellipse cx="1716" cy="1424" rx="36" ry="22" fill="#6c6c6c"/>
<circle cx="1690" cy="1462" r="12" fill="#2c2c2c"/>
<circle cx="1735" cy="1428" r="8" fill="#404040"/>
<circle cx="1700" cy="1418" r="7" fill="#484848"/>
<circle cx="1770" cy="1492" r="12" fill="#343434"/>
<circle cx="1812" cy="1520" r="12" fill="#3a3a3a"/>
<circle cx="1640" cy="1540" r="10" fill="#303030"/>
<circle cx="1610" cy="1600" r="12" fill="#343434"/>
<circle cx="1650" cy="1650" r="14" fill="#303030"/>
<circle cx="1600" cy="1640" r="10" fill="#3c3c3c"/>
<circle cx="1860" cy="1640" r="12" fill="#303030"/>
<circle cx="1905" cy="1660" r="10" fill="#343434"/>
<circle cx="1935" cy="1640" r="9" fill="#6c6c6c"/>
<circle cx="1955" cy="1710" r="10" fill="#363636"/>
<circle cx="1925" cy="1700" r="8" fill="#707070"/>
<circle cx="1985" cy="1640" r="9" fill="#606060"/>
<circle cx="1880" cy="1700" r="8" fill="#606060"/>
<circle cx="1700" cy="1700" r="10" fill="#2e2e2e"/>
<circle cx="1780" cy="1730" r="10" fill="#5c5c5c"/>
<circle cx="1724" cy="1372" r="34" fill="#2e2e2e"/>
<circle cx="1700" cy="1388" r="22" fill="#343434"/>
<circle cx="1702" cy="1440" r="22" fill="#585858"/>
<circle cx="1655" cy="1430" r="16" fill="#707070"/>
<circle cx="1752" cy="1458" r="30" fill="#525252"/>
<circle cx="1795" cy="1482" r="25" fill="#585858"/>
<circle cx="1826" cy="1451" r="21" fill="#7a7a7a"/>
<circle cx="1621" cy="1491" r="15" fill="#363636"/>
<circle cx="1640" cy="1505" r="20" fill="#3e3e3e"/>
<circle cx="1594" cy="1520" r="19" fill="#525252"/>
<circle cx="1604" cy="1555" r="27" fill="#4c4c4c"/>
<circle cx="1548" cy="1562" r="17" fill="#5c5c5c"/>
<circle cx="1500" cy="1594" r="20" fill="#6c6c6c"/>
<circle cx="1532" cy="1600" r="14" fill="#5a5a5a"/>
<circle cx="1527" cy="1648" r="23" fill="#606060"/>
<circle cx="1577" cy="1660" r="24" fill="#545454"/>
<circle cx="1619" cy="1668" r="18" fill="#444444"/>
<circle cx="1575" cy="1607" r="20" fill="#505050"/>
<circle cx="1758" cy="1722" r="27" fill="#4c4c4c"/>
<circle cx="1805" cy="1684" r="33" fill="#2c2c2c"/>
<circle cx="1715" cy="1700" r="20" fill="#3a3a3a"/>
<circle cx="1838" cy="1544" r="20" fill="#5a5a5a"/>
<circle cx="1845" cy="1511" r="15" fill="#6a6a6a"/>
<circle cx="1880" cy="1643" r="18" fill="#363636"/>
<circle cx="1948" cy="1680" r="52" fill="#505050"/>
<circle cx="1940" cy="1650" r="22" fill="#3c3c3c"/>
<circle cx="1975" cy="1700" r="18" fill="#404040"/>
<circle cx="1905" cy="1690" r="14" fill="#3a3a3a"/>
<circle cx="1985" cy="1670" r="18" fill="#3a3a3a"/>
<circle cx="1900" cy="1712" r="16" fill="#343434"/>
<circle cx="1930" cy="1722" r="14" fill="#444444"/>
<circle cx="1960" cy="1640" r="20" fill="#444444"/>
<circle cx="1915" cy="1745" r="9" fill="#505050"/>
<circle cx="1990" cy="1700" r="14" fill="#484848"/>
<circle cx="1945" cy="1700" r="12" fill="#3c3c3c"/>
<circle cx="2026" cy="1611" r="24" fill="#5a5a5a"/>
<circle cx="2066" cy="1608" r="19" fill="#6c6c6c"/>
<circle cx="2046" cy="1581" r="16" fill="#363636"/>
<circle cx="2075" cy="1640" r="12" fill="#808080"/>
<circle cx="1700" cy="1425" r="6" fill="#888888"/>
<circle cx="1712" cy="1448" r="5" fill="#909090"/>
<circle cx="1660" cy="1545" r="7" fill="#808080"/>
<circle cx="1640" cy="1570" r="6" fill="#888888"/>
<circle cx="1655" cy="1590" r="5" fill="#787878"/>
<circle cx="1745" cy="1440" r="5" fill="#888888"/>
<circle cx="1975" cy="1655" r="6" fill="#9a9a9a"/>
<circle cx="1915" cy="1690" r="7" fill="#cccccc"/>
<circle cx="1930" cy="1665" r="5" fill="#888888"/>
<ellipse cx="1762" cy="1692" rx="62" ry="34" fill="#343434"/>
<ellipse cx="1690" cy="1660" rx="40" ry="26" fill="#363636"/>
<ellipse cx="1872" cy="1555" rx="16" ry="9" fill="#555555" transform="rotate(-30 1872 1555)"/>
<ellipse cx="2000" cy="1705" rx="22" ry="12" fill="#707070" transform="rotate(20 2000 1705)"/>
<path d="M1835 1600 L1962 1606" stroke="#262626" stroke-width="38" stroke-linecap="round"/>
</g>
<g filter="url(#hvD2)">
<path d="M1671 1477 L1735 1470 L1788 1504 L1832 1585 L1808 1632 L1825 1692 L1738 1668 L1678 1688 L1637 1632 L1617 1585 L1644 1518 Z" fill="#262626"/>
<circle cx="1735" cy="1574" r="74" fill="#121212"/>
<circle cx="1737" cy="1572" r="52" fill="#000000"/>
</g>
<circle cx="1562.5" cy="1262" r="43.5" fill="url(#g30)"/>
<circle cx="1577" cy="1264" r="12.5" fill="#707070" stroke="#222222" stroke-width="4"/>
<circle cx="1585.5" cy="1342" r="32.5" fill="url(#g14)"/>
<circle cx="1581" cy="1340.5" r="15" fill="#7c7c7c" stroke="#2a2a2a" stroke-width="3.6"/>
<circle cx="1642.5" cy="1368" r="22.5" fill="url(#g12)"/>
<circle cx="1644" cy="1367" r="10" fill="#9c9c9c" stroke="#222222" stroke-width="3.6"/>
<circle cx="1619" cy="1425.5" r="8.5" fill="#9c9c9c" stroke="#444444" stroke-width="3"/>
<circle cx="1645" cy="1392" r="4" fill="#888888" stroke="#444444" stroke-width="2"/>
<path d="M1489 1405 L1530 1374 L1540 1478 L1492 1470 Z" fill="#474747"/>
<ellipse cx="1494" cy="1437" rx="25" ry="32" fill="#464646"/>
<circle cx="1550" cy="1424" r="54" fill="url(#g63)"/>
<path d="M1472 1437 C1472 1416 1484 1409 1496 1409 C1508 1411 1512 1424 1512 1440 C1512 1456 1508 1464 1498 1464 C1482 1464 1472 1456 1472 1437 Z" fill="#dedede" stroke="#121212" stroke-width="4.6"/>
<circle cx="1582" cy="1399" r="5.5" fill="#242424"/>
<circle cx="1536" cy="1427" r="6" fill="#666666" stroke="#333333" stroke-width="2.2"/>
<circle cx="1438" cy="1277" r="22" fill="url(#g23)"/>
<circle cx="1414" cy="1292" r="28" fill="url(#g64)"/>
<circle cx="1422" cy="1315" r="12" fill="url(#g65)"/>
<circle cx="1412" cy="1270" r="10" fill="#555555"/>
<circle cx="1415" cy="1256" r="5" fill="#f0f0f0" stroke="#aaaaaa" stroke-width="2"/>
<circle cx="1465" cy="1228" r="22" fill="url(#g17)"/>
<circle cx="1482" cy="1242" r="10" fill="url(#g3)"/>
<circle cx="1506" cy="1228" r="20" fill="url(#g39)"/>
<circle cx="1506" cy="1225" r="9" fill="#8a8a8a" stroke="#303030" stroke-width="3"/>
<circle cx="1590" cy="1222" r="18" fill="url(#g66)"/>
<circle cx="1450" cy="1222" r="12" fill="url(#g23)"/>
<circle cx="1412" cy="1338" r="6" fill="#f4f4f4" stroke="#aaaaaa" stroke-width="2.5"/>
<circle cx="1702.5" cy="1230.5" r="10" fill="url(#g66)"/>
<circle cx="1702.5" cy="1230.5" r="3.5" fill="#cccccc"/>
<ellipse cx="1898" cy="1221" rx="66" ry="13" fill="#686868"/>
<circle cx="1806" cy="1245.5" r="32" fill="url(#g23)"/>
<circle cx="1798" cy="1236" r="20" fill="none" stroke="#222222" stroke-width="3"/>
<circle cx="1811" cy="1245.5" r="14" fill="#686868" stroke="#1c1c1c" stroke-width="4"/>
<circle cx="1811" cy="1246" r="7" fill="#707070" stroke="#333333" stroke-width="2"/>
<circle cx="1855" cy="1304" r="30" fill="url(#g67)"/>
<circle cx="1938" cy="1245.5" r="15" fill="url(#g62)"/>
<circle cx="1878" cy="1234" r="16" fill="url(#g6)"/>
<circle cx="1878" cy="1234" r="10.5" fill="#9c9c9c" stroke="#1c1c1c" stroke-width="4"/>
<circle cx="1902" cy="1260.5" r="21" fill="url(#g66)"/>
<circle cx="1902" cy="1260.5" r="13.5" fill="#acacac" stroke="#1a1a1a" stroke-width="4.6"/>
<circle cx="1952" cy="1283" r="22" fill="url(#g27)"/>
<circle cx="1953" cy="1284" r="6" fill="#666666" stroke="#333333" stroke-width="2.6"/>
<circle cx="1950" cy="1270" r="3" fill="none" stroke="#333333" stroke-width="1.5"/>
<circle cx="1900" cy="1290.5" r="5.5" fill="#eeeeee" stroke="#888888" stroke-width="2"/>
<circle cx="2060.5" cy="1282" r="11" fill="url(#g62)"/>
<circle cx="2020.5" cy="1278" r="20" fill="url(#g68)"/>
<circle cx="2020.5" cy="1278" r="12" fill="#5a5a5a" stroke="#111111" stroke-width="4"/>
<circle cx="2019" cy="1281" r="4.5" fill="#888888" stroke="#333333" stroke-width="2"/>
<circle cx="2060.5" cy="1238" r="26" fill="url(#g53)"/>
<circle cx="2060.5" cy="1238" r="19.5" fill="#acacac" stroke="#181818" stroke-width="6"/>
<circle cx="2112" cy="1263" r="28" fill="#c2c2c2" stroke="#111111" stroke-width="6.5"/>
<circle cx="2040.5" cy="1324" r="25" fill="url(#g22)"/>
<circle cx="2039" cy="1323" r="11" fill="#7c7c7c" stroke="#1c1c1c" stroke-width="4"/>
<circle cx="2053" cy="1430.5" r="15" fill="url(#g27)"/>
<circle cx="2053" cy="1430.5" r="9.5" fill="#9a9a9a" stroke="#222222" stroke-width="4.6"/>
<circle cx="2073" cy="1405.5" r="6.5" fill="#aaaaaa" stroke="#444444" stroke-width="3"/>
<circle cx="2063" cy="1416" r="4" fill="#cccccc" stroke="#555555" stroke-width="2.2"/>
<circle cx="2094" cy="1425.5" r="14" fill="url(#g66)"/>
<circle cx="2094" cy="1425.5" r="10" fill="#9a9a9a" stroke="#333333" stroke-width="4"/>
<circle cx="2098" cy="1458" r="8" fill="#aaaaaa" stroke="#444444" stroke-width="3.6"/>
<circle cx="1874" cy="1455.5" r="22.5" fill="url(#g69)"/>
<circle cx="1900.5" cy="1439" r="7" fill="#eeeeee" stroke="#777777" stroke-width="2.6"/>
<circle cx="1930.5" cy="1495.5" r="7" fill="#e8e8e8" stroke="#888888" stroke-width="2.6"/>
<circle cx="1928" cy="1476" r="4.5" fill="#e8e8e8" stroke="#aaaaaa" stroke-width="2"/>
<circle cx="1729" cy="1379" r="10.5" fill="#7c7c7c" stroke="#222222" stroke-width="3"/>
<circle cx="1779" cy="1478" r="9" fill="#8c8c8c" stroke="#222222" stroke-width="3"/>
<circle cx="1579" cy="1620" r="20" fill="none" stroke="#1c1c1c" stroke-width="3"/>
<circle cx="1580" cy="1614" r="14.5" fill="#8a8a8a" stroke="#1c1c1c" stroke-width="3"/>
<circle cx="1605" cy="1548" r="5" fill="#666666" stroke="#333333" stroke-width="2.2"/>
<circle cx="1532" cy="1598" r="5" fill="#606060" stroke="#333333" stroke-width="2.2"/>
<circle cx="1803" cy="1686" r="17" fill="#464646" stroke="#141414" stroke-width="4"/>
<circle cx="1665" cy="1658" r="7" fill="#444444" stroke="#222222" stroke-width="2.5"/>
<circle cx="1830" cy="1581" r="5" fill="#666666" stroke="#444444" stroke-width="2"/>
<circle cx="1855" cy="1618" r="6" fill="#444444" stroke="#222222" stroke-width="2.5"/>
<circle cx="1880" cy="1642" r="5" fill="#505050" stroke="#222222" stroke-width="2.5"/>
<circle cx="1890" cy="1678" r="4" fill="#777777" stroke="#333333" stroke-width="2"/>
<circle cx="1892" cy="1728" r="5" fill="#666666" stroke="#222222" stroke-width="2.5"/>
<circle cx="1915" cy="1690" r="7" fill="#cccccc"/>
<circle cx="1975" cy="1655" r="6" fill="#9a9a9a"/>
<path d="M1692 1402 l20 14" stroke="#ddd" stroke-width="5" stroke-linecap="round"/>
<circle cx="2021.5" cy="1559" r="12" fill="#a2a2a2" stroke="#1a1a1a" stroke-width="5"/>
<circle cx="2055" cy="1588" r="5" fill="#777777" stroke="#222222" stroke-width="2.5"/>
<circle cx="2024" cy="1612" r="4" fill="#555555" stroke="#333333" stroke-width="2"/>
<circle cx="2017.5" cy="1643" r="8" fill="#cccccc" stroke="#666666" stroke-width="2.6"/>
<path d="M1650 1696 Q1675 1684 1698 1694 Q1705 1712 1690 1724 Q1672 1732 1658 1718 Q1648 1708 1650 1696 Z" fill="#e6e6e6" stroke="#1a1a1a" stroke-width="3.6"/>
<circle cx="1841.5" cy="1730" r="21" fill="url(#g53)"/>
<circle cx="1841.5" cy="1730" r="13" fill="#b2b2b2" stroke="#141414" stroke-width="4.6"/>
<circle cx="1772.5" cy="1751" r="10" fill="url(#g39)"/>
<circle cx="1772.5" cy="1751" r="3.5" fill="#777777" stroke="#333333" stroke-width="1.8"/>
<circle cx="1437.5" cy="1776" r="23" fill="url(#g70)"/>
<circle cx="1495" cy="1741" r="43" fill="url(#g14)"/>
<circle cx="1516" cy="1731" r="24.5" fill="url(#g71)" stroke="#222" stroke-width="2.6"/>
<circle cx="1485" cy="1749" r="17" fill="#7e7e7e" stroke="#1a1a1a" stroke-width="4"/>
<circle cx="1398" cy="1760" r="16" fill="url(#g72)"/>
<circle cx="1407.5" cy="1800" r="13" fill="url(#g17)"/>
<circle cx="1407" cy="1832" r="14" fill="url(#g39)"/>
<circle cx="1442" cy="1849" r="17.5" fill="url(#g70)"/>
<circle cx="1486" cy="1852.5" r="22" fill="url(#g49)"/>
<circle cx="1486" cy="1852.5" r="11" fill="#8c8c8c" stroke="#1c1c1c" stroke-width="3.6"/>
<circle cx="1403" cy="1877.5" r="18" fill="url(#g68)"/>
<circle cx="1401" cy="1878" r="10" fill="#555555" stroke="#111111" stroke-width="3.5"/>
<circle cx="1405" cy="1915" r="12" fill="url(#g36)"/>
<circle cx="1422" cy="1910" r="12" fill="url(#g39)"/>
<circle cx="1429" cy="1936" r="20" fill="url(#g70)"/>
<circle cx="1749.5" cy="1939.5" r="25" fill="url(#g65)"/>
<circle cx="1749.5" cy="1939.5" r="15" fill="#bebebe" stroke="#141414" stroke-width="5"/>
<circle cx="1670.5" cy="1968" r="20" fill="url(#g73)"/>
<circle cx="2046" cy="1888" r="13" fill="url(#g49)"/>
<circle cx="2046" cy="1881" r="4" fill="#555555" stroke="#222222" stroke-width="2"/>
<circle cx="2045" cy="1896" r="4.5" fill="#666666" stroke="#222222" stroke-width="2"/>
<circle cx="2073" cy="1910" r="17.5" fill="url(#g36)"/>
<circle cx="2073" cy="1910" r="6" fill="#787878" stroke="#222222" stroke-width="3"/>
<circle cx="2048" cy="1957.5" r="22.5" fill="url(#g49)"/>
<circle cx="2048" cy="1960" r="8" fill="#787878" stroke="#1c1c1c" stroke-width="3"/>
<circle cx="1459.5" cy="1552" r="2.2" fill="#777777"/>
<circle cx="1579" cy="1877" r="3" fill="#aaaaaa"/>
<circle cx="1595" cy="1932" r="2.5" fill="#999999"/>
<circle cx="1991" cy="1827" r="3.5" fill="#aaaaaa"/>
<circle cx="1968" cy="1904" r="2" fill="#999999"/>
<circle cx="1959" cy="1928" r="2" fill="#aaaaaa"/>
<circle cx="1950" cy="1927" r="1.8" fill="#aaaaaa"/>
<circle cx="2013" cy="1929" r="3" fill="#bbbbbb"/>
</g></g>
</svg></body></html>
